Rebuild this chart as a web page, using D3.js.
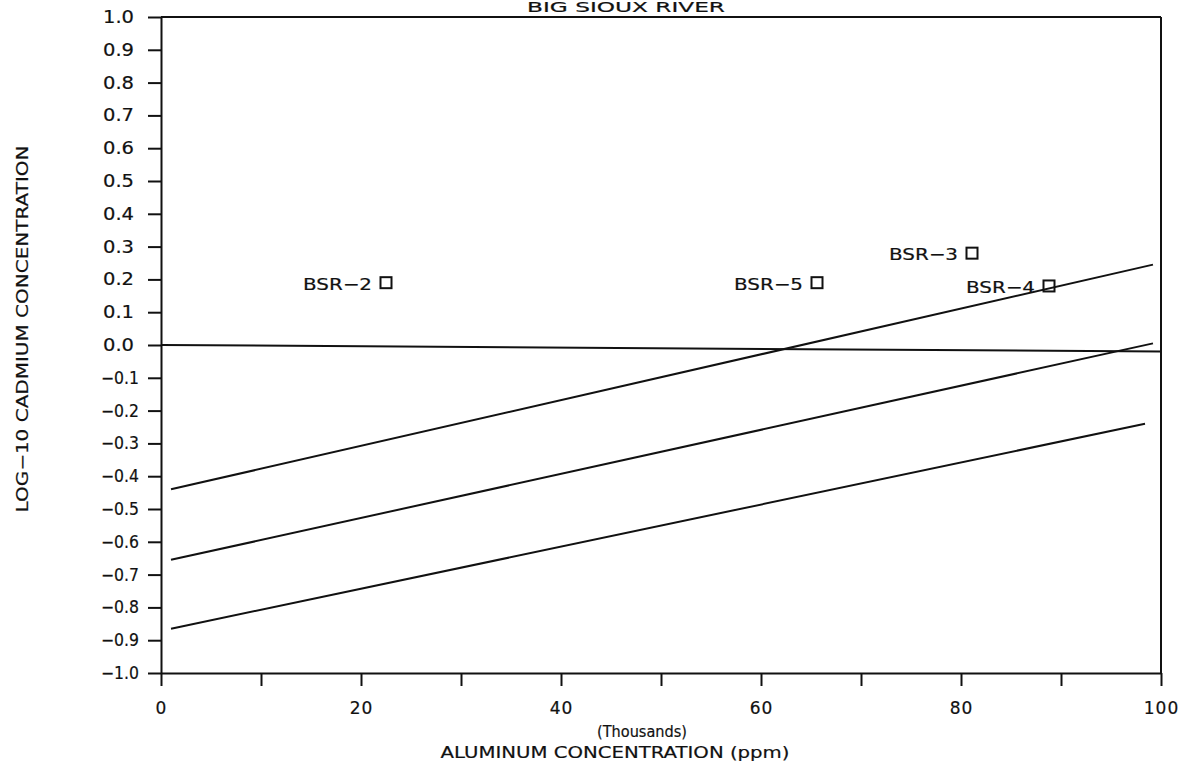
<!DOCTYPE html>
<html>
<head>
<meta charset="utf-8">
<script src="https://cdn.jsdelivr.net/npm/d3@7"></script>
<style>
  html, body { margin: 0; padding: 0; background: #fff; }
  svg { display: block; }
  text { font-family: "DejaVu Sans", sans-serif; fill: #111; stroke: #111; stroke-width: 0.2px; }
</style>
</head>
<body>
<svg id="chart" width="1185" height="770"></svg>
<script>
// Sample stations: aluminum (thousands of ppm) vs log10 cadmium
const sites = ["BSR\u22122", "BSR\u22125", "BSR\u22123", "BSR\u22124"];
const aluminum = [22.5, 65.6, 81.1, 88.8];
const logCadmium = [0.19, 0.19, 0.28, 0.18];

// Regression line with its upper and lower bounds, plus the zero reference
const lineNames = ["upper", "fit", "lower", "zero"];
const lineStartX = [1, 1, 1, 0];
const lineEndX = [99.2, 99.2, 98.4, 100];
const lineStartY = [-0.44, -0.655, -0.865, 0.0];
const lineEndY = [0.245, 0.005, -0.24, -0.02];

// Axis ticks
const xTicks = [0, 10, 20, 30, 40, 50, 60, 70, 80, 90, 100];
const xTickLabels = ["0", "", "20", "", "40", "", "60", "", "80", "", "100"];
const yTicks = d3.range(-10, 11).map(d => d / 10);

const title = "BIG SIOUX RIVER";
const xTitleTop = "(Thousands)";
const xTitle = "ALUMINUM CONCENTRATION (ppm)";
const yTitle = "LOG\u221210 CADMIUM CONCENTRATION";

const svg = d3.select("#chart");
const ink = "#111";

const x = d3.scaleLinear().domain([0, 100]).range([161, 1161]);
const y = d3.scaleLinear().domain([-1, 1]).range([673, 17]);

// Title above the frame
svg.append("text")
  .attr("x", 626).attr("y", 12)
  .attr("text-anchor", "middle")
  .attr("font-size", 14)
  .attr("textLength", 198).attr("lengthAdjust", "spacingAndGlyphs")
  .text(title);

// Left axis: labels start at a common left margin, as on the plotter sheet
const yAxis = d3.axisLeft(y)
  .tickValues(yTicks)
  .tickSize(13)
  .tickSizeOuter(0)
  .tickFormat(d3.format(".1f"));
const gy = svg.append("g").attr("transform", `translate(${x(0)},0)`).call(yAxis);
gy.select(".domain").attr("stroke", ink).attr("stroke-width", 2);
gy.selectAll(".tick line").attr("stroke", ink).attr("stroke-width", 2);
gy.selectAll(".tick text")
  .attr("x", d => (d < 0 ? 101 : 103) - x(0))
  .attr("text-anchor", "start")
  .attr("font-size", 17)
  .attr("font-family", "DejaVu Sans, sans-serif")
  .attr("textLength", d => d < 0 ? 38 : 31)
  .attr("lengthAdjust", "spacingAndGlyphs")
  .attr("fill", ink);

// Bottom axis
const xAxis = d3.axisBottom(x)
  .tickValues(xTicks)
  .tickSize(13)
  .tickSizeOuter(0)
  .tickPadding(16)
  .tickFormat((d, i) => xTickLabels[i]);
const gx = svg.append("g").attr("transform", `translate(0,${y(-1)})`).call(xAxis);
gx.select(".domain").attr("stroke", ink).attr("stroke-width", 2);
gx.selectAll(".tick line").attr("stroke", ink).attr("stroke-width", 2);
gx.selectAll(".tick text")
  .attr("font-size", 17)
  .attr("font-family", "DejaVu Sans, sans-serif")
  .attr("letter-spacing", 1)
  .attr("fill", ink);

// Top and right frame lines
svg.append("line")
  .attr("x1", x(0)).attr("x2", x(100))
  .attr("y1", y(1)).attr("y2", y(1))
  .attr("stroke", ink).attr("stroke-width", 2);
svg.append("line")
  .attr("x1", x(100)).attr("x2", x(100))
  .attr("y1", y(1)).attr("y2", y(-1))
  .attr("stroke", ink).attr("stroke-width", 2);

// Fit lines
const lineGen = d3.line().x(d => x(d[0])).y(d => y(d[1]));
svg.append("g").selectAll("path")
  .data(lineNames.map((n, i) => ({
    name: n,
    pts: [[lineStartX[i], lineStartY[i]], [lineEndX[i], lineEndY[i]]]
  })))
  .join("path")
  .attr("class", d => "line-" + d.name)
  .attr("d", d => lineGen(d.pts))
  .attr("fill", "none")
  .attr("stroke", ink)
  .attr("stroke-width", 2);

// Sample markers with labels
const pts = sites.map((s, i) => ({ site: s, al: aluminum[i], cd: logCadmium[i] }));
const sq = 11;
const gp = svg.append("g");
gp.selectAll("rect")
  .data(pts)
  .join("rect")
  .attr("x", d => x(d.al) - sq / 2)
  .attr("y", d => y(d.cd) - sq / 2)
  .attr("width", sq).attr("height", sq)
  .attr("fill", "none")
  .attr("stroke", ink)
  .attr("stroke-width", 2);
gp.selectAll("text")
  .data(pts)
  .join("text")
  .attr("x", d => x(d.al) - 14)
  .attr("y", d => y(d.cd) + 7)
  .attr("text-anchor", "end")
  .attr("font-size", 16)
  .attr("textLength", 69).attr("lengthAdjust", "spacingAndGlyphs")
  .text(d => d.site);

// Axis titles
svg.append("text")
  .attr("transform", `translate(28,329) rotate(-90)`)
  .attr("text-anchor", "middle")
  .attr("font-size", 16)
  .attr("textLength", 367).attr("lengthAdjust", "spacingAndGlyphs")
  .text(yTitle);

svg.append("text")
  .attr("x", 642).attr("y", 737)
  .attr("text-anchor", "middle")
  .attr("font-size", 16)
  .attr("textLength", 90).attr("lengthAdjust", "spacingAndGlyphs")
  .text(xTitleTop);

svg.append("text")
  .attr("x", 615).attr("y", 758)
  .attr("text-anchor", "middle")
  .attr("font-size", 16)
  .attr("textLength", 349).attr("lengthAdjust", "spacingAndGlyphs")
  .text(xTitle);
</script>
</body>
</html>
